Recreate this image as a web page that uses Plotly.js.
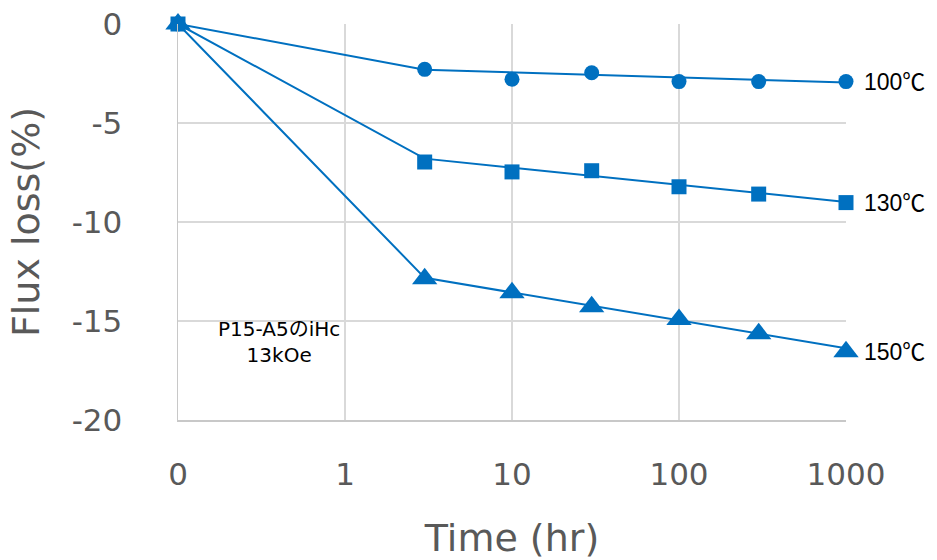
<!DOCTYPE html>
<html>
<head>
<meta charset="utf-8">
<script src="https://cdn.plot.ly/plotly-3.0.1.min.js"></script>
<style>html,body{margin:0;padding:0;background:#fff;}#chart{width:937px;height:560px;}</style>
</head>
<body>
<div id="chart"></div>
<script>
// Time (hr); 0 is drawn at the "0" tick position of the log axis
const times = [0, 3, 10, 30, 100, 300, 1000];
const ZERO_POS = 0.1;
const tickVals = [0.1, 1, 10, 100, 1000];
const tickLabels = ['0', '1', '10', '100', '1000'];
const yTicks = [0, -5, -10, -15, -20];

const seriesNames = ['100℃', '130℃', '150℃'];
// measured points (markers)
const loss100 = [0, -2.29, -2.79, -2.46, -2.91, -2.91, -2.91];
const loss130 = [0, -6.97, -7.47, -7.41, -8.22, -8.59, -9.02];
const loss150 = [0, -12.86, -13.57, -14.28, -14.93, -15.64, -16.55];
// connecting/trend lines (straight in log time from 3 h to 1000 h)
const lineTimes = [0, 3, 1000];
const line100 = [0, -2.31, -2.95];
const line130 = [0, -6.8, -8.99];
const line150 = [0, -12.82, -16.38];

const seriesValues = [loss100, loss130, loss150];
const lineValues = [line100, line130, line150];
const symbols = ['circle', 'square', 'triangle-up'];
const sizes = [15, 15, 22];

const noteText = 'P15-A5のiHc<br>13kOe';

const blue = '#0070C0';
const toX = t => t === 0 ? ZERO_POS : t;

const traces = [];
lineValues.forEach((vals, i) => {
  traces.push({
    x: lineTimes.map(toX), y: vals, type: 'scatter', mode: 'lines',
    name: seriesNames[i] + ' line',
    line: {color: blue, width: 2}, hoverinfo: 'skip'
  });
});
seriesValues.forEach((vals, i) => {
  traces.push({
    x: times.map(toX), y: vals, type: 'scatter', mode: 'markers',
    name: seriesNames[i],
    marker: {color: blue, size: sizes[i], symbol: symbols[i]},
    cliponaxis: false
  });
});

const labelAnnotations = seriesValues.map((vals, i) => ({
  xref: 'x', yref: 'y',
  x: Math.log10(toX(times[times.length - 1])),
  y: vals[vals.length - 1],
  xanchor: 'left', yanchor: 'middle',
  xshift: 16,
  text: seriesNames[i],
  showarrow: false,
  font: {family: 'Liberation Sans, Noto Sans CJK JP, sans-serif', size: 23, color: '#000'}
}));

const layout = {
  width: 937,
  height: 560,
  margin: {l: 178, r: 91, t: 24, b: 140},
  paper_bgcolor: '#fff',
  plot_bgcolor: '#fff',
  showlegend: false,
  font: {family: 'DejaVu Sans, Verdana, sans-serif', color: '#595959'},
  xaxis: {
    type: 'log',
    range: [-1, 3],
    tickvals: tickVals,
    ticktext: tickLabels,
    tickfont: {size: 31, color: '#595959'},
    ticklabelstandoff: 26,
    showgrid: true,
    gridcolor: '#d9d9d9',
    gridwidth: 1.5,
    showline: true,
    linecolor: '#c8c8c8',
    linewidth: 1.5,
    zeroline: false,
    ticks: '',
    title: {text: 'Time (hr)', font: {size: 38, color: '#595959'}, standoff: 38}
  },
  yaxis: {
    range: [-20, 0],
    tickvals: yTicks,
    ticktext: yTicks.map(v => String(v)),
    tickfont: {size: 31, color: '#595959'},
    ticklabelstandoff: 48,
    showgrid: true,
    gridcolor: '#d9d9d9',
    gridwidth: 1.5,
    showline: true,
    linecolor: '#c8c8c8',
    linewidth: 1.5,
    zeroline: false,
    ticks: '',
    title: {text: 'Flux loss(%)', font: {size: 38, color: '#595959'}, standoff: 20}
  },
  annotations: labelAnnotations.concat([{
    xref: 'paper', yref: 'paper',
    x: 0.151, y: 0.197,
    xanchor: 'center', yanchor: 'middle',
    text: noteText,
    showarrow: false,
    align: 'center',
    font: {family: 'DejaVu Sans, Noto Sans CJK JP, sans-serif', size: 20, color: '#000'}
  }])
};

Plotly.newPlot('chart', traces, layout, {displayModeBar: false, staticPlot: true});
</script>
</body>
</html>
